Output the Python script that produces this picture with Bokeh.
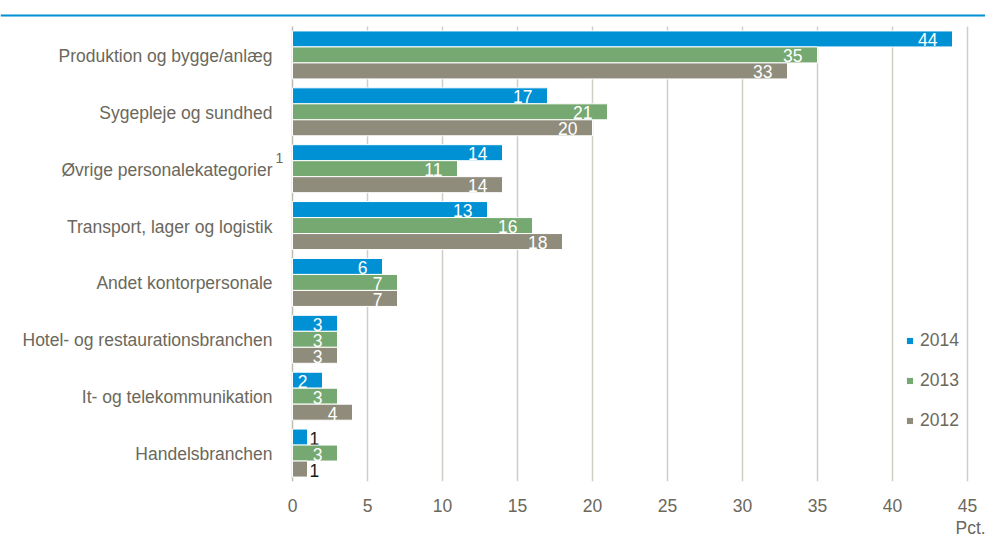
from bokeh.plotting import figure
from bokeh.models import (ColumnDataSource, Range1d, FixedTicker, Legend, LegendItem, Span)
from bokeh.embed import file_html
from bokeh.resources import INLINE
from bokeh.core.properties import value

# ---------------- data ----------------
categories = [
    "Produktion og bygge/anlæg",
    "Sygepleje og sundhed",
    "Øvrige personalekategorier",
    "Transport, lager og logistik",
    "Andet kontorpersonale",
    "Hotel- og restaurationsbranchen",
    "It- og telekommunikation",
    "Handelsbranchen",
]
years = ["2014", "2013", "2012"]
v2014 = [44, 17, 14, 13, 6, 3, 2, 1]
v2013 = [35, 21, 11, 16, 7, 3, 3, 3]
v2012 = [33, 20, 14, 18, 7, 3, 4, 1]
x_ticks = [0, 5, 10, 15, 20, 25, 30, 35, 40, 45]
footnote_category = "Øvrige personalekategorier"
footnote_mark = "1"
unit_label = "Pct."

# ---------------- style / layout ----------------
FONT = "Liberation Sans"
FS = "17.5px"
TXT = "#6b685c"
colors = {"2014": "#0090d4", "2013": "#76a971", "2012": "#8f8c7c"}
series = {"2014": v2014, "2013": v2013, "2012": v2012}

W, H = 985, 540
X0_PX = 292          # pixel position of value 0
PX_PER_UNIT = 15.0   # pixels per percentage point
TOP_PX = 26          # pixel top of category area
BOTTOM_BORDER = 59
ncat = len(categories)
band_px = (H - BOTTOM_BORDER - TOP_PX) / ncat

x_range = Range1d(-X0_PX / PX_PER_UNIT, (W - X0_PX) / PX_PER_UNIT)
y_range = Range1d(ncat, -TOP_PX / band_px)

p = figure(width=W, height=H, output_backend="svg", toolbar_location=None,
           x_range=x_range, y_range=y_range, y_axis_location=None,
           min_border_left=0, min_border_right=0, min_border_top=0,
           min_border_bottom=BOTTOM_BORDER, title=unit_label, title_location="below")
p.outline_line_color = None
p.background_fill_color = "white"
p.border_fill_color = "white"
p.xgrid.grid_line_color = None
p.ygrid.grid_line_color = None

# gridlines (only over the category area) and value axis line
p.segment(x0=x_ticks[1:], x1=x_ticks[1:], y0=0, y1=ncat,
          line_color="#cfcdc5", line_width=1.5)
p.segment(x0=[0], x1=[0], y0=[0], y1=[ncat], line_color="#bdbab0", line_width=1.5)

pitch = 0.2813  # bar slot in category units
offsets = {"2014": -pitch, "2013": 0.0, "2012": pitch}

renderers = {}
for yr in years:
    vals = series[yr]
    ys = [i + 0.5 + offsets[yr] for i in range(ncat)]
    src = ColumnDataSource(dict(y=ys, v=vals))
    r = p.hbar(y="y", left=0, right="v", height=pitch, source=src,
               fill_color=colors[yr], line_color="white", line_width=1)
    renderers[yr] = r
    inside = ColumnDataSource(dict(y=[y for y, v in zip(ys, vals) if v >= 2],
                                   v=[v for v in vals if v >= 2],
                                   lab=[str(v) for v in vals if v >= 2]))
    outside = ColumnDataSource(dict(y=[y for y, v in zip(ys, vals) if v < 2],
                                    v=[v for v in vals if v < 2],
                                    lab=[str(v) for v in vals if v < 2]))
    p.text(x="v", y="y", text="lab", source=inside, text_color="white",
           text_font=value(FONT), text_font_size=FS, text_align="right",
           text_baseline="middle", x_offset=-15, y_offset=1)
    p.text(x="v", y="y", text="lab", source=outside, text_color="#1a1a1a",
           text_font=value(FONT), text_font_size=FS, text_align="left",
           text_baseline="middle", x_offset=2, y_offset=1)

# category labels
cat_src = ColumnDataSource(dict(x=[0] * ncat, y=[i + 0.5 for i in range(ncat)], t=categories))
p.text(x="x", y="y", text="t", source=cat_src, text_color=TXT,
       text_font=value(FONT), text_font_size=FS, text_align="right",
       text_baseline="middle", x_offset=-20, y_offset=1)

# footnote superscript
fi = categories.index(footnote_category)
p.text(x=[0], y=[fi + 0.5], text=[footnote_mark], text_color=TXT,
       text_font=value(FONT), text_font_size="14px", text_align="center",
       text_baseline="middle", x_offset=-13, y_offset=-11)

# value axis
xax = p.xaxis[0]
xax.ticker = FixedTicker(ticks=x_ticks)
xax.axis_line_color = None
xax.major_tick_line_color = None
xax.minor_tick_line_color = None
xax.major_tick_out = 0
xax.major_tick_in = 0
xax.minor_tick_out = 0
xax.major_label_standoff = 17
xax.major_label_text_font = FONT
xax.major_label_text_font_size = FS
xax.major_label_text_color = TXT

# unit label below the axis, under the last tick
p.title.align = "left"
p.title.offset = 955
p.title.standoff = 2
p.title.text_font = FONT
p.title.text_font_size = FS
p.title.text_font_style = "normal"
p.title.text_color = TXT

legend = Legend(items=[LegendItem(label=yr, renderers=[renderers[yr]]) for yr in years],
                location=(905, 50), orientation="vertical",
                glyph_width=9, glyph_height=9, label_standoff=6,
                label_height=20, spacing=19, padding=0, margin=0,
                label_text_font=FONT, label_text_font_size=FS,
                label_text_color=TXT, background_fill_alpha=0,
                border_line_color=None)
p.add_layout(legend)

# blue rule under the (cropped) header
p.add_layout(Span(location=-11 / band_px, dimension="width",
                  line_color="#0090d4", line_width=2))

open("out.html", "w").write(file_html(p, INLINE))
